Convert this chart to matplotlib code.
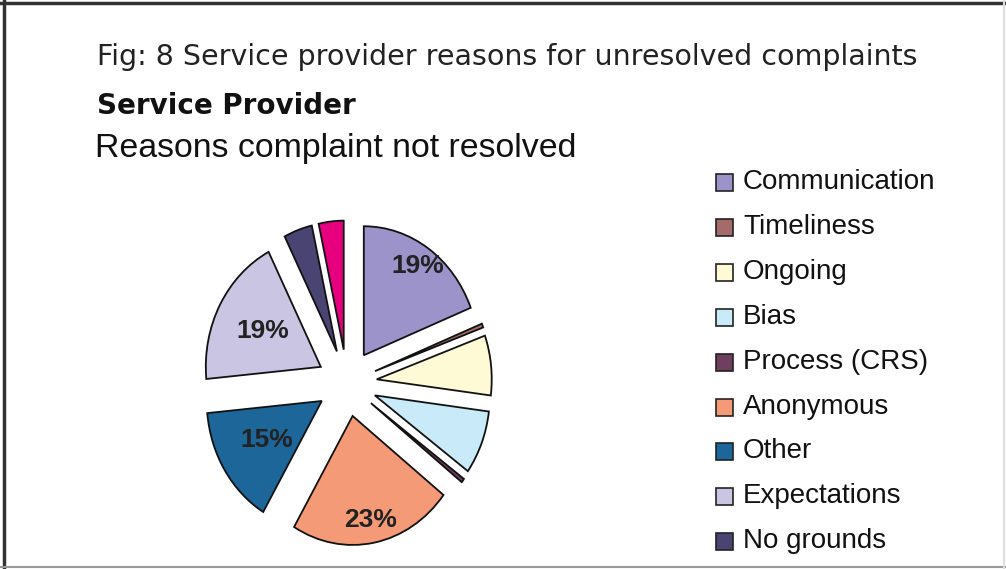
#!/usr/bin/env python3
# coding: utf-8

import numpy as np
import matplotlib
matplotlib.use("Agg")
import matplotlib.pyplot as plt
from matplotlib.patches import Rectangle
from matplotlib.lines import Line2D

# data (percent of unresolved complaints)
reasons = ["Communication", "Timeliness", "Ongoing", "Bias", "Process (CRS)",
           "Anonymous", "Other", "Expectations", "No grounds", "(not shown)"]
shares = [19, 0.5, 7.5, 8, 0.5, 23, 15, 19, 4, 3.5]
colors = ["#9b93c9", "#a56b6b", "#fffad6", "#c9eaf8", "#6e3f5e",
          "#f59a76", "#1c6699", "#c9c5e3", "#4a4472", "#e6007e"]
n_legend = 9  # the last legend entry is cut off in the reference

W, H = 1006, 569
fig = plt.figure(figsize=(W / 100, H / 100), dpi=100)

# pie axes: 1 data unit = 115 px across, 129 px down (the pie is a bit stretched)
cx, cy = 347, 383
lim = 1.4
aw, ah = 2 * lim * 115, 2 * lim * 129
ax = fig.add_axes([(cx - aw / 2) / W, (H - cy - ah / 2) / H, aw / W, ah / H])

wedges, _ = ax.pie(shares, colors=colors, startangle=90, counterclock=False,
                   explode=[0.26] * len(shares),
                   wedgeprops=dict(edgecolor="#111111", linewidth=1.3))
ax.set_aspect("auto")
ax.set_xlim(-lim, lim)
ax.set_ylim(-lim, lim)
ax.axis("off")

# percent labels only on the large slices, each at its own radius
label_r = {0: 0.84, 5: 0.82, 6: 0.57, 7: 0.58}
total = float(sum(shares))
for i, w in enumerate(wedges):
    if i not in label_r:
        continue
    mid = np.deg2rad((w.theta1 + w.theta2) / 2)
    x = w.center[0] + label_r[i] * np.cos(mid)
    y = w.center[1] + label_r[i] * np.sin(mid)
    ax.text(x, y, "%d%%" % round(100 * shares[i] / total), ha="center",
            va="center", fontsize=19, fontweight="bold", color="#222222",
            family="Liberation Sans")

# titles
fig.text(97 / W, 1 - 57 / H, "Fig: 8 Service provider reasons for unresolved complaints",
         fontsize=20.5, color="#222222", va="center", family="DejaVu Sans")
fig.text(97 / W, 1 - 106 / H, "Service Provider", fontsize=20, fontweight="bold",
         color="#111111", va="center", family="DejaVu Sans")
fig.text(95 / W, 1 - 148 / H, "Reasons complaint not resolved", fontsize=24.4,
         color="#111111", va="center", family="Liberation Sans")

# legend, drawn by hand to match the row spacing
for k in range(n_legend):
    yc = 182 + k * 44.9
    fig.patches.append(Rectangle((716 / W, 1 - (yc + 9) / H), 17 / W, 17 / H,
                                 transform=fig.transFigure, facecolor=colors[k],
                                 edgecolor="#222222", linewidth=1.2))
    fig.text(743 / W, 1 - yc / H, reasons[k], fontsize=20, color="#111111",
             va="center", family="Liberation Sans")

# sunken frame around the chart
fig.add_artist(Line2D([0, 1], [1 - 3 / H, 1 - 3 / H], color="#333333", lw=2.5))
fig.add_artist(Line2D([4 / W, 4 / W], [0, 1], color="#333333", lw=2.5))
fig.add_artist(Line2D([0, 1], [2 / H, 2 / H], color="#999999", lw=1.5))
fig.add_artist(Line2D([1 - 2 / W, 1 - 2 / W], [0, 1], color="#dddddd", lw=1.5))

fig.savefig("out.png", dpi=100)
